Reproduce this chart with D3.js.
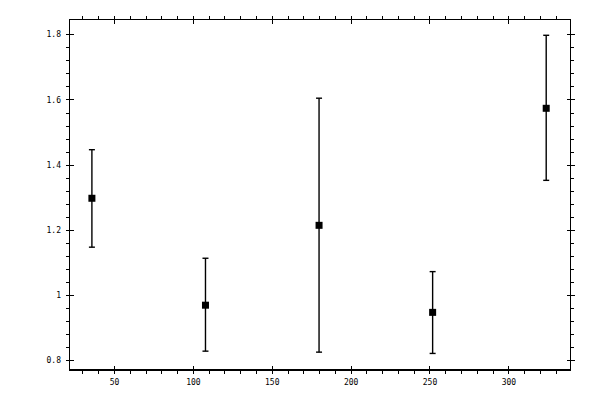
<!DOCTYPE html>
<html>
<head>
<meta charset="UTF-8">
<title>Error bar chart</title>
<style>
  body { margin: 0; background: white; }
  svg { display: block; }
  .axis path, .axis line { stroke: black; stroke-width: 1px; shape-rendering: crispEdges; }
  .axis text { font-family: "DejaVu Sans Mono", monospace; font-size: 8px; fill: black; }
  .bar { stroke: black; stroke-width: 1.4px; fill: none; }
  .pt { fill: black; }
</style>
</head>
<body>
<script src="https://d3js.org/d3.v7.min.js"></script>
<script>
// data
var xs    = [36, 108, 180, 252, 324];
var means = [1.297, 0.969, 1.214, 0.947, 1.573];
var upper = [1.446, 1.113, 1.604, 1.072, 1.797];
var lower = [1.147, 0.828, 0.825, 0.821, 1.352];

var xTicks = [50, 100, 150, 200, 250, 300];
var yTicks = [0.8, 1, 1.2, 1.4, 1.6, 1.8];

var width = 600, height = 400;
var plotL = 69.5, plotR = 570.5, plotT = 19.5, plotB = 370;

var svg = d3.select("body").append("svg")
    .attr("width", width)
    .attr("height", height);

var x = d3.scaleLinear().domain([21.8, 339.4]).range([plotL, plotR]);
var y = d3.scaleLinear().domain([0.7702, 1.8454]).range([plotB, plotT]);

var xMinor = d3.range(30, 340, 10).filter(function(v) { return v % 50 != 0; });
var yMinor = d3.range(0.8, 1.84, 0.04).map(function(v) { return +v.toFixed(2); })
    .filter(function(v) { return Math.abs(v * 5 - Math.round(v * 5)) > 1e-6; });

function fmtY(d) { return d == 1 ? "1" : d3.format(".1f")(d); }

// frame
svg.append("rect")
    .attr("x", plotL).attr("y", plotT)
    .attr("width", plotR - plotL).attr("height", plotB - plotT)
    .attr("fill", "none").attr("stroke", "black").attr("stroke-width", 1.3)
    .attr("shape-rendering", "crispEdges");

function addAxis(axis, tx, ty) {
    var g = svg.append("g").attr("class", "axis")
        .attr("transform", "translate(" + tx + "," + ty + ")")
        .call(axis);
    g.select(".domain").remove();
    return g;
}

// bottom
addAxis(d3.axisBottom(x).tickValues(xTicks).tickSize(4).tickPadding(5), 0, plotB);
addAxis(d3.axisBottom(x).tickValues(xTicks).tickSize(-4).tickFormat(""), 0, plotB);
addAxis(d3.axisBottom(x).tickValues(xMinor).tickSize(3.5).tickFormat(""), 0, plotB);
// top
addAxis(d3.axisTop(x).tickValues(xTicks).tickSize(4).tickFormat(""), 0, plotT);
addAxis(d3.axisTop(x).tickValues(xTicks).tickSize(-4).tickFormat(""), 0, plotT);
addAxis(d3.axisTop(x).tickValues(xMinor).tickSize(3.5).tickFormat(""), 0, plotT);
// left
addAxis(d3.axisLeft(y).tickValues(yTicks).tickSize(4).tickPadding(4.5).tickFormat(fmtY), plotL, 0);
addAxis(d3.axisLeft(y).tickValues(yTicks).tickSize(-4).tickFormat(""), plotL, 0);
addAxis(d3.axisLeft(y).tickValues(yMinor).tickSize(3.5).tickFormat(""), plotL, 0);
// right
addAxis(d3.axisRight(y).tickValues(yTicks).tickSize(4).tickFormat(""), plotR, 0);
addAxis(d3.axisRight(y).tickValues(yTicks).tickSize(-4).tickFormat(""), plotR, 0);
addAxis(d3.axisRight(y).tickValues(yMinor).tickSize(3.5).tickFormat(""), plotR, 0);

var rows = xs.map(function(v, i) {
    return { x: v, m: means[i], hi: upper[i], lo: lower[i] };
});

var cap = 3;
var g = svg.append("g");
var bars = g.selectAll(".eb").data(rows).enter().append("g").attr("class", "eb");

bars.append("line").attr("class", "bar")
    .attr("x1", function(d) { return x(d.x); }).attr("x2", function(d) { return x(d.x); })
    .attr("y1", function(d) { return y(d.hi); }).attr("y2", function(d) { return y(d.lo); });
bars.append("line").attr("class", "bar")
    .attr("x1", function(d) { return x(d.x) - cap; }).attr("x2", function(d) { return x(d.x) + cap; })
    .attr("y1", function(d) { return y(d.hi); }).attr("y2", function(d) { return y(d.hi); });
bars.append("line").attr("class", "bar")
    .attr("x1", function(d) { return x(d.x) - cap; }).attr("x2", function(d) { return x(d.x) + cap; })
    .attr("y1", function(d) { return y(d.lo); }).attr("y2", function(d) { return y(d.lo); });
bars.append("rect").attr("class", "pt")
    .attr("x", function(d) { return x(d.x) - 3.5; })
    .attr("y", function(d) { return y(d.m) - 3.5; })
    .attr("width", 7).attr("height", 7);
</script>
</body>
</html>
